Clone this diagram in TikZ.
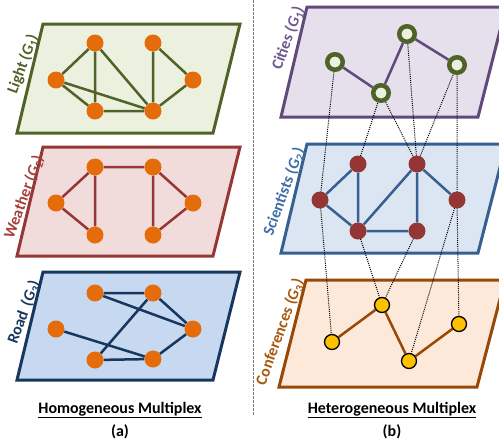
\documentclass[tikz,border=0pt]{standalone}
\usepackage{fontspec}
\setmainfont{Carlito}
\definecolor{olive}{HTML}{4F6228}
\definecolor{olivefill}{HTML}{EBF1DE}
\definecolor{nodeorange}{HTML}{E46C0A}
\definecolor{wred}{HTML}{953735}
\definecolor{wredtext}{HTML}{A8403D}
\definecolor{wfill}{HTML}{F2DCDB}
\definecolor{navy}{HTML}{17375E}
\definecolor{rfill}{HTML}{C6D9F1}
\definecolor{purp}{HTML}{604A7B}
\definecolor{purptext}{HTML}{6E5890}
\definecolor{cfill}{HTML}{E6E0EC}
\definecolor{sblue}{HTML}{376092}
\definecolor{sbluetext}{HTML}{3F6DA6}
\definecolor{sfill}{HTML}{DCE6F2}
\definecolor{snode}{HTML}{943634}
\definecolor{brown}{HTML}{984807}
\definecolor{browntext}{HTML}{A8580F}
\definecolor{pfill}{HTML}{FDE9D9}
\definecolor{gold}{HTML}{FFC000}
\pgfdeclarelayer{planes}
\pgfdeclarelayer{links}
\pgfsetlayers{planes,links,main}
\begin{document}
\begin{tikzpicture}[x=1pt,y=-1pt,
  plane/.style={line width=3pt, line join=miter},
  onode/.style={circle, fill=nodeorange, minimum size=17pt, inner sep=0pt},
  cnode/.style={circle, draw=olive, fill=olivefill, line width=4.5pt, minimum size=15.5pt, inner sep=0pt},
  snodestyle/.style={circle, fill=snode, minimum size=17pt, inner sep=0pt},
  pnode/.style={circle, draw=black, fill=gold, line width=1.3pt, minimum size=15pt, inner sep=0pt},
  link/.style={line width=2.5pt},
  inter/.style={black, line width=1pt, dash pattern=on 1pt off 1.1pt},
  sidelabel/.style={rotate=70, inner sep=0pt, font=\bfseries\fontsize{16}{18}\selectfont},
  title/.style={inner sep=0pt, font=\bfseries\fontsize{16}{19}\selectfont}]
\useasboundingbox (0,0) rectangle (499,440);
\clip (0,0) rectangle (499,440);

% ---------- planes ----------
\begin{pgfonlayer}{planes}
\draw[plane, draw=olive, fill=olivefill] (43,24) -- (240,24) -- (213,133) -- (17,133) -- cycle;
\draw[plane, draw=wred, fill=wfill] (43,147) -- (240,147) -- (213,256) -- (17,256) -- cycle;
\draw[plane, draw=navy, fill=rfill] (43,272) -- (240,272) -- (213,380) -- (17,380) -- cycle;
\draw[plane, draw=purp, fill=cfill] (307,7) -- (506,7) -- (478,117) -- (281,117) -- cycle;
\draw[plane, draw=sblue, fill=sfill] (307,144) -- (506,144) -- (478,253) -- (281,253) -- cycle;
\draw[plane, draw=brown, fill=pfill] (306,280) -- (505,280) -- (477,387) -- (279,387) -- cycle;
% separator
\draw[gray, line width=0.7pt, dash pattern=on 2.5pt off 1.5pt] (253,0) -- (253,415);
\end{pgfonlayer}

% ---------- Light (G1) ----------
\node[onode] (la) at (95,43) {};
\node[onode] (lb) at (153,43) {};
\node[onode] (lc) at (56,80) {};
\node[onode] (ld) at (193,80) {};
\node[onode] (le) at (95,111) {};
\node[onode] (lf) at (153,111) {};
\begin{pgfonlayer}{links}
\draw[link, olive] (la) -- (lc) (la) -- (le) (la) -- (lf) (lc) -- (le) (lc) -- (lf)
  (le) -- (lf) (lb) -- (lf) (lb) -- (ld) (ld) -- (lf);
\end{pgfonlayer}

% ---------- Weather (G2) ----------
\node[onode] (wa) at (95,167) {};
\node[onode] (wb) at (153,167) {};
\node[onode] (wc) at (56,203) {};
\node[onode] (wd) at (193,203) {};
\node[onode] (we) at (95,235) {};
\node[onode] (wf) at (153,235) {};
\begin{pgfonlayer}{links}
\draw[link, wred] (wa) -- (wb) (wa) -- (wc) (wa) -- (we) (wc) -- (we)
  (wb) -- (wd) (wb) -- (wf) (wd) -- (wf);
\end{pgfonlayer}

% ---------- Road (G3) ----------
\node[onode] (ra) at (95,293) {};
\node[onode] (rb) at (153,293) {};
\node[onode] (rc) at (56,329) {};
\node[onode] (rd) at (193,329) {};
\node[onode] (re) at (95,360) {};
\node[onode] (rf) at (153,359) {};
\begin{pgfonlayer}{links}
\draw[link, navy] (ra) -- (rb) (ra) -- (rd) (rb) -- (re) (rb) -- (rd)
  (rc) -- (rf) (re) -- (rf) (rd) -- (rf);
\end{pgfonlayer}

% ---------- Cities (G1) ----------
\node[cnode] (ca) at (335,62) {};
\node[cnode] (cb) at (407,34) {};
\node[cnode] (cc) at (381,93) {};
\node[cnode] (cd) at (457,65) {};

% ---------- Scientists (G2) ----------
\node[snodestyle] (sa) at (320,200) {};
\node[snodestyle] (sb) at (358,164) {};
\node[snodestyle] (sc) at (417,164) {};
\node[snodestyle] (sd) at (457,200) {};
\node[snodestyle] (se) at (358,231) {};
\node[snodestyle] (sf) at (417,231) {};

% ---------- Conferences (G3) ----------
\node[pnode] (pa) at (332,342) {};
\node[pnode] (pb) at (382,305) {};
\node[pnode] (pc) at (409,361) {};
\node[pnode] (pd) at (459,324) {};

\begin{pgfonlayer}{links}
% inter-layer links
\draw[inter] (ca.center) -- (sa.center) (cc.center) -- (sb.center) (cc.center) -- (sc.center)
  (cb.center) -- (sc.center) (cd.center) -- (sc.center) (cd.center) -- (sd.center);
\draw[inter] (sa.center) -- (pa.center) (se.center) -- (pb.center) (sf.center) -- (pb.center)
  (sd.center) -- (pc.center) (sd.center) -- (pd.center);
% intra-layer links
\draw[link, purp] (ca) -- (cc) (cc) -- (cb) (cb) -- (cd);
\draw[link, sblue] (sa) -- (sb) (sa) -- (se) (sb) -- (se) (se) -- (sc) (sc) -- (sf)
  (se) -- (sf) (sc) -- (sd);
\draw[link, brown] (pa) -- (pb) (pb) -- (pc) (pc) -- (pd);
\end{pgfonlayer}

% ---------- side labels ----------
\node[sidelabel, text=olive] (tl) at (23,64) {Light (\textit{G}\textsubscript{1})};
\node[sidelabel, text=wredtext] (tw) at (24,197) {Weather (\textit{G}\textsubscript{2})};
\node[sidelabel, text=navy] (tr) at (24,312) {Road\, (\textit{G}\textsubscript{3})};
\node[sidelabel, text=purptext] (tc) at (288,38) {Cities (\textit{G}\textsubscript{1})};
\node[sidelabel, text=sbluetext] (ts) at (284,192) {Scientists (\textit{G}\textsubscript{2})};
\node[sidelabel, text=browntext] (tp) at (280,332) {Conferences (\textit{G}\textsubscript{3})};

% ---------- captions ----------
\node[title] (hom) at (120,410) {\underline{Homogeneous Multiplex}};
\node[title] (capa) at (120,432) {(a)};
\node[title] (het) at (392,410) {\underline{Heterogeneous Multiplex}};
\node[title] (capb) at (392,432) {(b)};
\end{tikzpicture}
\end{document}
